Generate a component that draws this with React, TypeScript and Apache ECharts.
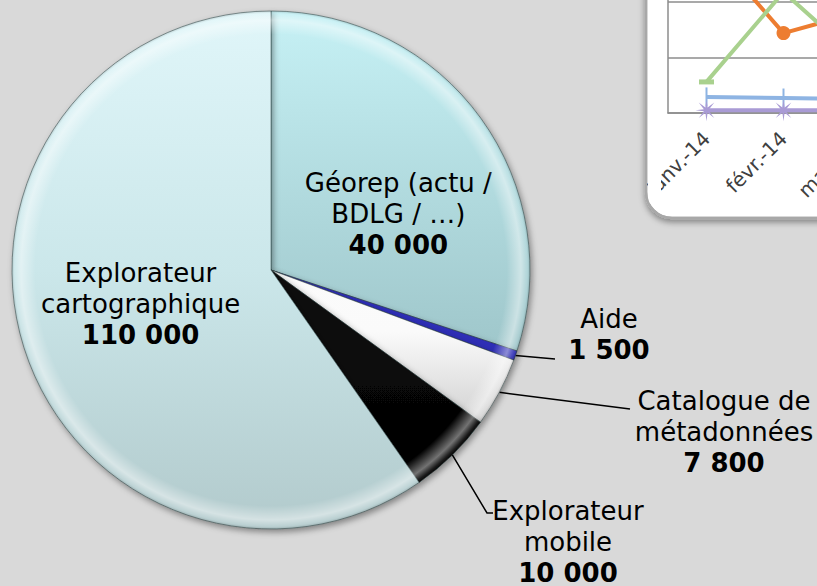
import React, { useEffect, useRef } from 'react';
import * as echarts from 'echarts';

// ---- Pie data ----
const categories = [
  'Géorep (actu /\nBDLG / …)',
  'Aide',
  'Catalogue de\nmétadonnées',
  'Explorateur\nmobile',
  'Explorateur\ncartographique',
];
// numbers printed on the labels
const printedValues = [40000, 1500, 7800, 10000, 110000];
// slice sizes as drawn in the picture
const sliceValues = [55400, 1100, 8000, 9800, 110000];

// ---- Inset line chart (partially visible) ----
const insetMonths = ['janv.-14', 'févr.-14', 'mars-14'];
const insetOrange = [3.03, 1.44, 1.82];
const insetGreen = [0.56, 2.18, 0.94];
const insetBlue = [0.29, 0.27, 0.25];
const insetPurple = [0.05, 0.05, 0.05];

const FONT = 'DejaVu Sans';
const CX = 271;
const CY = 270;
const R = 259;

const fmt = (v: number) => String(v).replace(/\B(?=(\d{3})+(?!\d))/g, ' ');

const vgrad = (stops: [number, string][]) => ({
  type: 'linear',
  x: 0,
  y: CY - R,
  x2: 0,
  y2: CY + R,
  global: true,
  colorStops: stops.map(([offset, color]) => ({ offset, color })),
});

const sliceFills = [
  vgrad([[0, '#C6F1F5'], [0.6, '#A2CACE'], [1, '#8DB3B6']]),
  vgrad([[0, '#3A3AC8'], [0.66, '#2D2DB5'], [1, '#202090']]),
  vgrad([[0, '#FFFFFF'], [0.62, '#FAFAFA'], [0.8, '#D0D0D0'], [1, '#BBBBBB']]),
  vgrad([[0, '#2A2A2A'], [0.6, '#0A0A0A'], [1, '#000000']]),
  vgrad([[0, '#E0F6F9'], [0.5, '#CBE7EA'], [1, '#B2CACC']]),
];
const insideLabel = [true, false, false, false, true];

// label placement (layout only)
const labelSpots: any[] = [
  { dx: 20, dy: 22 },
  { x: 609, y: 334, line: [[555, 359]] },
  { x: 724, y: 432, line: [[630, 409]] },
  { x: 568, y: 542, line: [[487, 513], [493, 513]] },
  { dx: -4, dy: -6 },
];

const starPath = (() => {
  let d = '';
  for (let k = 0; k < 16; k++) {
    const a = (Math.PI * k) / 8;
    const rr = k % 2 === 0 ? 10 : 2.6;
    d += (k === 0 ? 'M' : 'L') + (rr * Math.sin(a)).toFixed(2) + ',' + (-rr * Math.cos(a)).toFixed(2);
  }
  return 'path://' + d + 'Z';
})();

export default function App() {
  const ref = useRef<HTMLDivElement>(null);
  useEffect(() => {
    document.body.style.margin = '0';
    const chart = echarts.init(ref.current!, null, { renderer: 'svg' });
    const gridCol = '#8C8C8C';
    const option: any = {
      animation: false,
      backgroundColor: '#D9D9D9',
      graphic: [
        {
          type: 'rect',
          z: -1,
          shape: { x: 646, y: -40, width: 240, height: 258, r: 26 },
          style: {
            fill: '#FFFFFF',
            stroke: '#A8A8A8',
            lineWidth: 2.5,
            shadowBlur: 6,
            shadowColor: 'rgba(0,0,0,0.4)',
            shadowOffsetY: 3,
          },
        },
        {
          type: 'rect',
          z: 100,
          shape: { x: 648, y: 120, width: 13, height: 84 },
          style: { fill: '#FFFFFF' },
        },
        {
          type: 'rect',
          z: 101,
          shape: { x: 646, y: -40, width: 240, height: 258, r: 26 },
          style: { fill: 'none', stroke: '#A8A8A8', lineWidth: 2.5 },
        },
      ],
      grid: {
        left: 668,
        top: -109,
        height: 222,
        width: 231,
        containLabel: false,
        outerBoundsMode: 'none',
      },
      xAxis: {
        type: 'category',
        data: insetMonths,
        boundaryGap: true,
        axisLine: { lineStyle: { color: gridCol, width: 1.5 } },
        axisTick: { show: false },
        axisLabel: {
          rotate: 45,
          interval: 0,
          fontSize: 20,
          fontFamily: FONT,
          color: '#404040',
          margin: 22,
        },
      },
      yAxis: {
        type: 'value',
        min: 0,
        max: 4,
        interval: 1,
        axisLabel: { show: false },
        axisTick: { show: false },
        axisLine: { show: true, lineStyle: { color: gridCol, width: 1.5 } },
        splitLine: { lineStyle: { color: gridCol, width: 1.5 } },
      },
      series: [
        {
          type: 'line',
          data: insetOrange,
          symbol: 'circle',
          symbolSize: 14,
          lineStyle: { color: '#ED7D31', width: 4 },
          itemStyle: { color: '#ED7D31' },
          z: 3,
        },
        {
          type: 'line',
          data: insetGreen,
          symbol: 'rect',
          symbolSize: [15, 5],
          lineStyle: { color: '#A9D18E', width: 4 },
          itemStyle: { color: '#A9D18E' },
          z: 4,
        },
        {
          type: 'line',
          data: insetBlue,
          symbol: 'rect',
          symbolSize: [2, 19],
          lineStyle: { color: '#8EB4E3', width: 4 },
          itemStyle: { color: '#8EB4E3' },
          z: 3,
        },
        {
          type: 'line',
          data: insetPurple,
          symbol: starPath,
          symbolSize: 22,
          lineStyle: { color: '#A99BD5', width: 4 },
          itemStyle: { color: '#A99BD5' },
          z: 3,
        },
        {
          type: 'pie',
          center: [CX, CY],
          radius: R,
          startAngle: 90,
          clockwise: true,
          avoidLabelOverlap: false,
          z: 5,
          emphasis: { disabled: true },
          itemStyle: {
            borderColor: 'rgba(40,60,60,0.5)',
            borderWidth: 1,
            shadowBlur: 6,
            shadowColor: 'rgba(0,0,0,0.4)',
            shadowOffsetX: 2,
            shadowOffsetY: 3,
          },
          label: {
            color: '#000',
            fontFamily: FONT,
            fontSize: 26,
            lineHeight: 31,
            align: 'center',
            formatter: (p: any) => `${p.name}\n{b|${fmt(printedValues[p.dataIndex])}}`,
            rich: {
              b: { fontFamily: FONT, fontSize: 26, lineHeight: 31, fontWeight: 'bold', color: '#000' },
            },
          },
          labelLine: { lineStyle: { color: '#000', width: 1.5 }, length: 15, length2: 15 },
          labelLayout: (p: any) => {
            const s = labelSpots[p.dataIndex];
            if (s.x == null) {
              const r = p.labelRect;
              return {
                x: r.x + r.width / 2 + s.dx,
                y: r.y + r.height / 2 + s.dy,
                align: 'center',
                verticalAlign: 'middle',
              };
            }
            const out: any = { x: s.x, y: s.y, align: 'center', verticalAlign: 'middle' };
            if (p.labelLinePoints && p.labelLinePoints.length) {
              out.labelLinePoints = [p.labelLinePoints[0], ...s.line];
            }
            return out;
          },
          data: categories.map((name, i) => ({
            name,
            value: sliceValues[i],
            itemStyle: { color: sliceFills[i] },
            label: { position: insideLabel[i] ? 'inside' : 'outside' },
            labelLine: { show: !insideLabel[i] },
          })),
        },
        {
          type: 'pie',
          center: [CX, CY],
          radius: R,
          startAngle: 90,
          clockwise: true,
          silent: true,
          z: 6,
          label: { show: false },
          labelLine: { show: false },
          itemStyle: {
            borderWidth: 0,
            color: {
              type: 'radial',
              x: CX,
              y: CY,
              r: R,
              global: true,
              colorStops: [
                { offset: 0, color: 'rgba(255,255,255,0)' },
                { offset: 0.91, color: 'rgba(255,255,255,0)' },
                { offset: 0.965, color: 'rgba(255,255,255,0.45)' },
                { offset: 0.99, color: 'rgba(255,255,255,0.1)' },
                { offset: 1, color: 'rgba(0,0,0,0.15)' },
              ],
            },
          },
          data: categories.map((name, i) => ({ name, value: sliceValues[i] })),
        },
      ],
    };
    chart.setOption(option);
    return () => chart.dispose();
  }, []);
  return <div ref={ref} style={{ width: 817, height: 586 }} />;
}
